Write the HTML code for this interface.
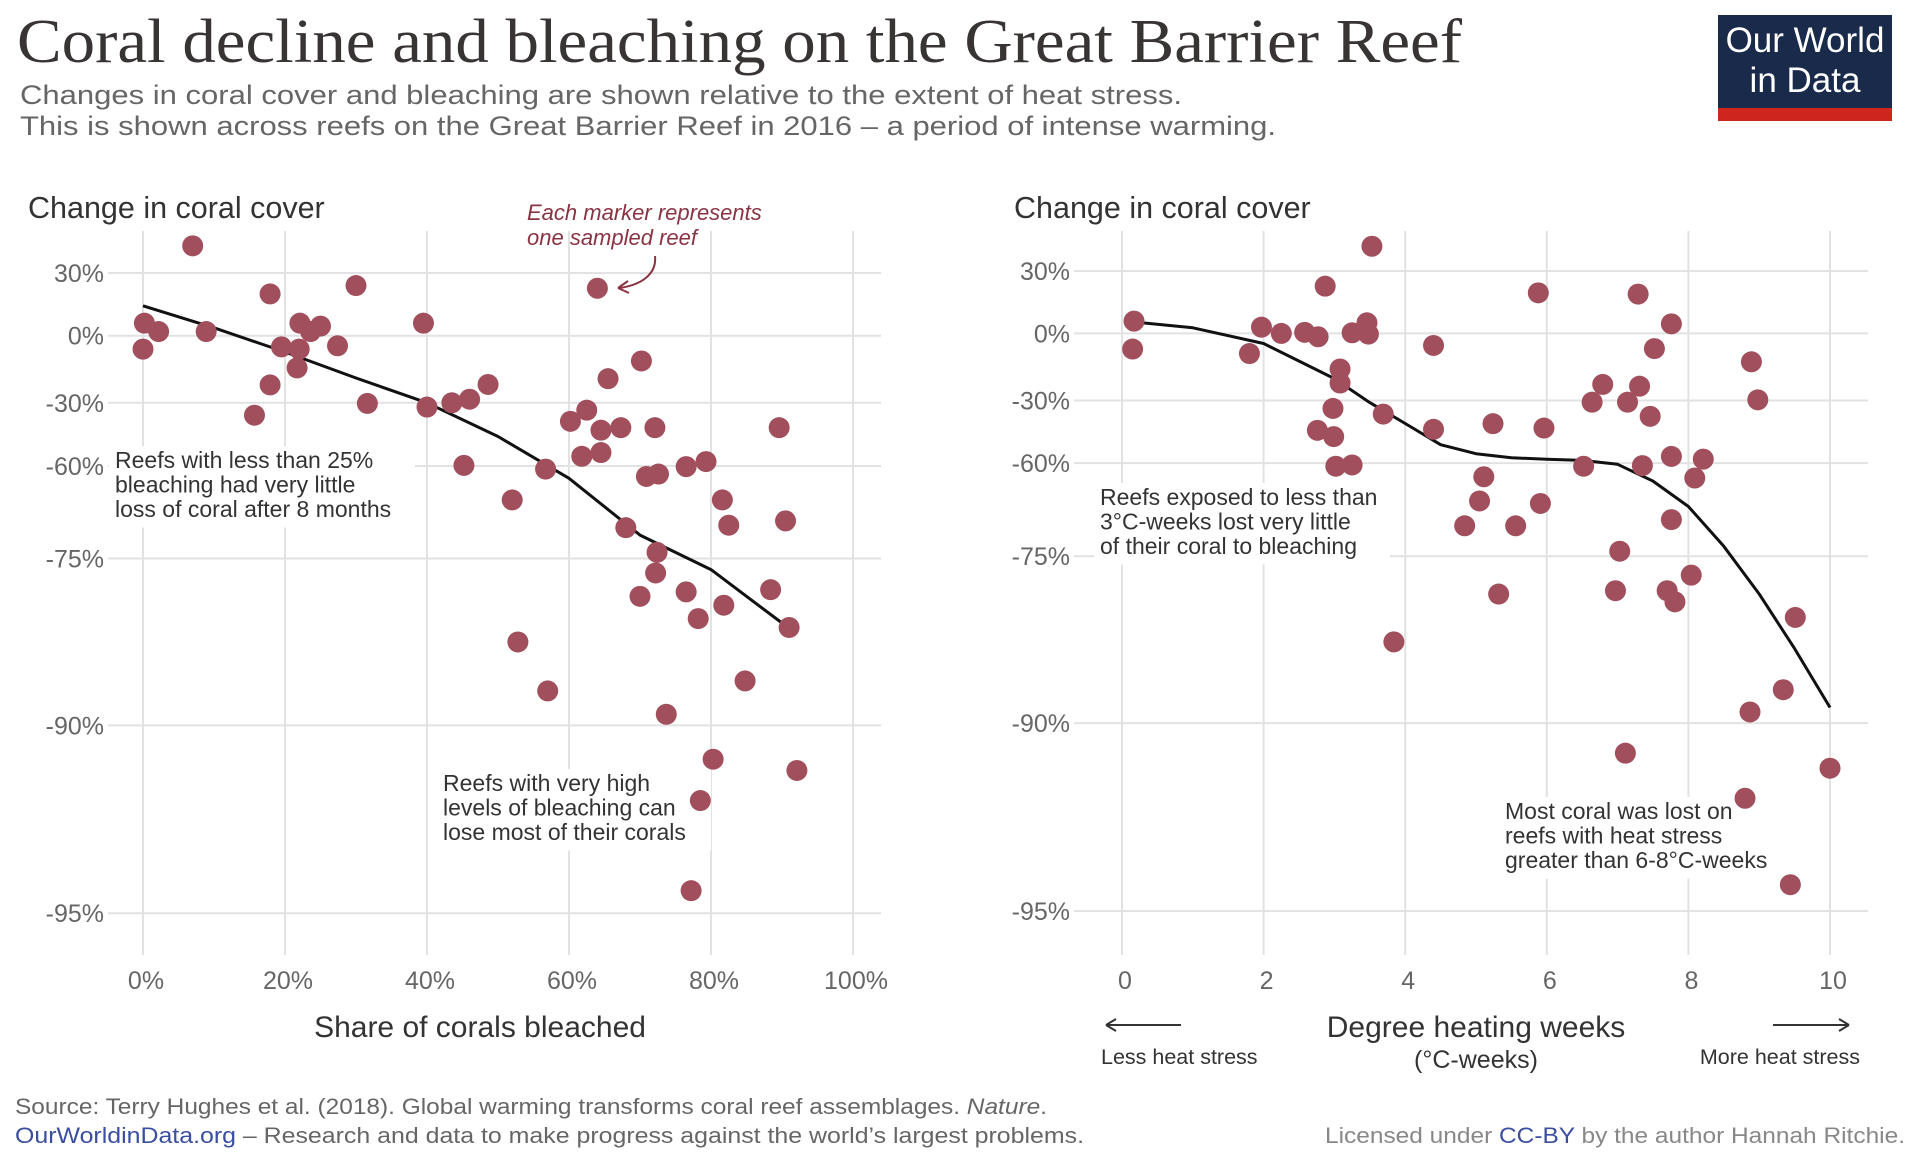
<!DOCTYPE html>
<html><head><meta charset="utf-8"><style>
html,body{margin:0;padding:0;background:#fff;}
svg{display:block;font-family:"Liberation Sans",sans-serif;}
</style></head><body>
<svg id="chart" width="1909" height="1157" viewBox="0 0 1909 1157" xmlns="http://www.w3.org/2000/svg">
<text x="17" y="62" font-family="Liberation Serif, serif" font-size="62" fill="#383434" textLength="1445" lengthAdjust="spacingAndGlyphs">Coral decline and bleaching on the Great Barrier Reef</text>
<text x="20" y="104" font-size="27" fill="#666" textLength="1162" lengthAdjust="spacingAndGlyphs">Changes in coral cover and bleaching are shown relative to the extent of heat stress.</text>
<text x="20" y="135" font-size="27" fill="#666" textLength="1256" lengthAdjust="spacingAndGlyphs">This is shown across reefs on the Great Barrier Reef in 2016 – a period of intense warming.</text>
<g>
<rect x="1718" y="15" width="174" height="106" fill="#1a2a4a"/>
<rect x="1718" y="108" width="174" height="13" fill="#ce261e"/>
<text x="1805" y="52" font-size="35" fill="#fff" text-anchor="middle">Our World</text>
<text x="1805" y="92" font-size="35" fill="#fff" text-anchor="middle">in Data</text>
</g>
<g id="left"></g>
<g id="right"></g>
<text x="15" y="1114" font-size="22" fill="#666" textLength="1032" lengthAdjust="spacingAndGlyphs">Source: Terry Hughes et al. (2018). Global warming transforms coral reef assemblages. <tspan font-style="italic">Nature</tspan>.</text>
<text x="15" y="1143" font-size="22" fill="#666" textLength="1069" lengthAdjust="spacingAndGlyphs"><tspan fill="#3b4ea0">OurWorldinData.org</tspan> – Research and data to make progress against the world’s largest problems.</text>
<text x="1325" y="1143" font-size="22" fill="#888" textLength="580" lengthAdjust="spacingAndGlyphs">Licensed under <tspan fill="#3b4ea0">CC-BY</tspan> by the author Hannah Ritchie.</text>
</svg>
<script>
const yTicks = [30, 0, -30, -60, -75, -90, -95];
const yTickLabels = ["30%", "0%", "-30%", "-60%", "-75%", "-90%", "-95%"];
const leftXTicks = [0, 20, 40, 60, 80, 100];
const leftXTickLabels = ["0%", "20%", "40%", "60%", "80%", "100%"];
const rightXTicks = [0, 2, 4, 6, 8, 10];
const rightXTickLabels = ["0", "2", "4", "6", "8", "10"];
const bleachedX = [7.0,0.2,2.2,0,8.9,17.9,19.5,22.1,22,23.6,25,21.7,27.4,17.9,30,15.7,31.6,39.5,40,43.5,46,48.6,45.2,52,56.7,60.2,62.5,64,65.5,64.5,67.3,72.1,70.2,61.8,64.5,70.9,72.6,76.5,79.3,68,72.4,72.2,70,76.5,81.8,78.2,81.6,82.5,89.6,90.5,88.4,91,52.8,57,73.7,84.8,80.3,92.1,78.5,77.2];
const bleachedY = [43,6,2,-6,2,20,-5,6,-6,2,4.6,-14.4,-4.5,-22,24,-35.9,-30.3,6,-32,-30,-28.4,-21.8,-59.7,-65.5,-60.5,-38.8,-33.5,22.7,-19.2,-43,-41.8,-41.8,-11.3,-55.4,-53.6,-61.7,-61.3,-60.1,-57.9,-70,-74,-76.3,-78.4,-78,-79.2,-80.4,-65.5,-69.6,-41.8,-68.9,-77.8,-81.2,-82.5,-86.9,-89,-86,-90.9,-91.2,-92,-94.4];
const bleachedTrendX = [0,10,20,30,40,50,60,70,80,90];
const bleachedTrendY = [14.3,3.8,-7.3,-18.9,-30,-46,-62,-71.2,-76,-80.8];
const dhwX = [0.17,0.15,1.8,1.97,2.25,2.58,2.77,2.87,3.25,3.46,3.48,3.53,3.08,3.08,2.98,2.76,2.99,3.02,3.25,3.69,3.84,4.40,4.40,5.24,5.96,5.11,5.05,4.84,5.56,5.91,5.32,5.88,6.52,6.64,6.79,7.14,7.31,7.29,7.76,7.52,7.46,7.35,7.76,8.21,8.09,7.76,7.03,6.97,7.70,7.81,8.04,8.89,8.98,9.51,9.34,8.87,7.11,10.0,8.80,9.44];
const dhwY = [5.9,-7,-9,3,0,0.5,-1.5,22.7,0.3,5.1,-0.3,41.9,-15.9,-22.2,-33.8,-44.3,-47.3,-60.5,-60.3,-36.5,-82.7,-5.4,-43.8,-41.1,-43.2,-62.2,-66.1,-70.1,-70.1,-66.5,-78.4,19.5,-60.5,-30.8,-22.8,-30.8,-23.6,18.9,4.6,-6.8,-37.6,-60.4,-56.8,-58.1,-62.4,-69.1,-74.2,-78.1,-78.1,-79.1,-76.7,-12.7,-29.7,-80.5,-87,-89,-90.8,-91.2,-92,-94.3];
const dhwTrendX = [0.2,1,2,3,3.5,4,4.5,5,5.5,6,6.5,7,7.5,8,8.5,9,9.5,10];
const dhwTrendY = [5.4,2.7,-4.5,-20.2,-31,-41,-51.2,-55.5,-57.4,-58.2,-58.7,-60.2,-62.9,-67,-73.4,-78.4,-83.3,-88.6];

const NS = "http://www.w3.org/2000/svg";
const DOT = "#a24f5d";
function mk(parent, tag, attrs, text) {
  const e = document.createElementNS(NS, tag);
  for (const k in attrs) e.setAttribute(k, attrs[k]);
  if (text !== undefined) e.textContent = text;
  parent.appendChild(e);
  return e;
}
function yScaleFactory(pix) {
  return function (v) {
    if (v >= yTicks[0]) return pix[0] - (v - yTicks[0]) * (pix[1] - pix[0]) / (yTicks[0] - yTicks[1]);
    for (let i = 0; i < yTicks.length - 1; i++) {
      if (v <= yTicks[i] && v >= yTicks[i + 1]) {
        const t = (yTicks[i] - v) / (yTicks[i] - yTicks[i + 1]);
        return pix[i] + t * (pix[i + 1] - pix[i]);
      }
    }
    const n = yTicks.length;
    return pix[n - 1] + (yTicks[n - 1] - v) * (pix[n - 1] - pix[n - 2]) / (yTicks[n - 2] - yTicks[n - 1]);
  };
}
function drawPanel(g, cfg) {
  const y = yScaleFactory(cfg.yPix);
  const x = v => cfg.x0 + (v - cfg.dmin) / (cfg.dmax - cfg.dmin) * (cfg.x1 - cfg.x0);
  yTicks.forEach((t, i) => {
    const l = mk(g, "line", {x1: cfg.gx0, x2: cfg.gx1, y1: y(t), y2: y(t), stroke: "#e2e2e2", "stroke-width": 2});
    
    
    const tx = mk(g, "text", {x: cfg.gx0 - 4, y: y(t) + 9, "font-size": 25, fill: "#666", "text-anchor": "end"}, yTickLabels[i]);
    
    
  });
  cfg.xTicks.forEach((t, i) => {
    const l = mk(g, "line", {x1: x(t), x2: x(t), y1: 231, y2: 955, stroke: "#e2e2e2", "stroke-width": 2});
    
    
    const tx = mk(g, "text", {x: x(t) + 3, y: 989, "font-size": 25, fill: "#666", "text-anchor": "middle"}, cfg.xLabels[i]);
    
    
  });
  cfg.annots.forEach(a => {
    const r = mk(g, "rect", {x: a.x - 6, y: a.y - 22, width: a.w, height: a.lines.length * 24.5 + 8, fill: "#fff"});
    
    
    a.lines.forEach((s, i) => {
      const t = mk(g, "text", {x: a.x, y: a.y + i * 24.5, "font-size": 23, fill: "#333"}, s);
      
      
    });
  });
  const d = cfg.tx.map((v, i) => (i ? "L" : "M") + x(v).toFixed(1) + "," + y(cfg.ty[i]).toFixed(1)).join(" ");
  const p = mk(g, "path", {d: d, fill: "none", stroke: "#111", "stroke-width": 3, "stroke-linejoin": "round"});
  
  
  cfg.px.forEach((v, i) => {
    const c = mk(g, "circle", {cx: x(v), cy: y(cfg.py[i]), r: 10.5, fill: DOT});
    
    
  });
  const ttl = mk(g, "text", {x: cfg.titleX, y: 218, "font-size": 30.5, fill: "#333"}, "Change in coral cover");
  
  
}
const L = document.getElementById("left");
drawPanel(L, {
  x0: 143, x1: 853, dmin: 0, dmax: 100, gx0: 108, gx1: 881,
  yPix: [273, 335.7, 402.8, 466, 558.5, 725.4, 913.2],
  xTicks: leftXTicks, xLabels: leftXTickLabels,
  px: bleachedX, py: bleachedY, tx: bleachedTrendX, ty: bleachedTrendY, titleX: 28,
  annots: [
    {x: 115, y: 468, w: 306, lines: ["Reefs with less than 25%", "bleaching had very little", "loss of coral after 8 months"]},
    {x: 443, y: 791, w: 274, lines: ["Reefs with very high", "levels of bleaching can", "lose most of their corals"]}
  ]
});
const R = document.getElementById("right");
drawPanel(R, {
  x0: 1122, x1: 1830, dmin: 0, dmax: 10, gx0: 1074, gx1: 1868,
  yPix: [271, 333.4, 400.5, 463.1, 556.2, 723.1, 911],
  xTicks: rightXTicks, xLabels: rightXTickLabels,
  px: dhwX, py: dhwY, tx: dhwTrendX, ty: dhwTrendY, titleX: 1014,
  annots: [
    {x: 1100, y: 505, w: 296, lines: ["Reefs exposed to less than", "3°C-weeks lost very little", "of their coral to bleaching"]},
    {x: 1505, y: 819, w: 292, lines: ["Most coral was lost on", "reefs with heat stress", "greater than 6-8°C-weeks"]}
  ]
});
const S = document.getElementById("chart");
function addText(x, y, size, fill, anchor, s, name, extra) {
  const t = mk(S, "text", Object.assign({x: x, y: y, "font-size": size, fill: fill, "text-anchor": anchor}, extra || {}), s);
  
  
}
addText(480, 1037, 30, "#333", "middle", "Share of corals bleached", "x-axis-title-left");
addText(1476, 1037, 30, "#333", "middle", "Degree heating weeks", "x-axis-title-right");
addText(1476, 1068, 25, "#333", "middle", "(°C-weeks)", "x-axis-unit-right");
addText(1101, 1064, 21.5, "#333", "start", "Less heat stress", "less-heat-stress-label");
addText(1860, 1064, 21.5, "#333", "end", "More heat stress", "more-heat-stress-label");
addText(527, 220, 22, "#8a3343", "start", "Each marker represents", "marker-note-line-1", {"font-style": "italic"});
addText(527, 245, 22, "#8a3343", "start", "one sampled reef", "marker-note-line-2", {"font-style": "italic"});
const arrows = [
  {d: "M655,256 C657,275 640,285 620,288", name: "marker-note-arrow", color: "#8a3343"},
  {d: "M1181,1025 L1106,1025", name: "less-heat-arrow", color: "#333"},
  {d: "M1773,1025 L1849,1025", name: "more-heat-arrow", color: "#333"}
];
arrows.forEach(a => {
  const p = mk(S, "path", {d: a.d, fill: "none", stroke: a.color, "stroke-width": 2});
  
  
});
const heads = [
  {d: "M618,288 L628,281 M618,288 L629,293", color: "#8a3343"},
  {d: "M1106,1025 L1116,1019 M1106,1025 L1116,1031", color: "#333"},
  {d: "M1849,1025 L1839,1019 M1849,1025 L1839,1031", color: "#333"}
];
heads.forEach(h => {
  const p = mk(S, "path", {d: h.d, fill: "none", stroke: h.color, "stroke-width": 2});
  
  
});
</script>
</body></html>
